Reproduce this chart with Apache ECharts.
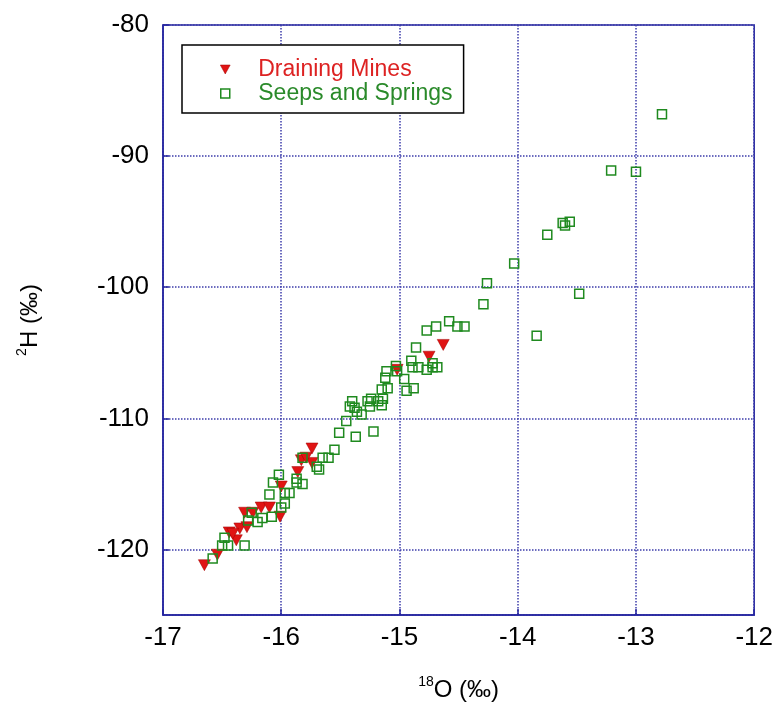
<!DOCTYPE html>
<html>
<head>
<meta charset="utf-8">
<title>2H vs 18O</title>
<script src="https://cdn.jsdelivr.net/npm/echarts@6/dist/echarts.min.js"></script>
<style>
    html, body { margin: 0; padding: 0; background: #fff; }
    #chart { width: 776px; height: 721px; }
</style>
</head>
<body>
<div id="chart"></div>
<script>
    // delta 18O (x) and delta 2H (y), per mil
    var minesO = [-16.65, -16.54, -16.44, -16.38, -16.35, -16.29, -16.41, -16.31, -16.24, -16.17,
                  -16.10, -16.01, -16.00, -15.86, -15.83, -15.74, -15.74, -15.79, -15.02, -14.75, -14.63];
    var minesH = [-121.2, -120.4, -118.7, -119.3, -118.4, -118.3, -118.8, -117.2, -117.2, -116.8,
                  -116.8, -117.5, -115.2, -114.1, -113.2, -113.4, -112.3, -113.0, -106.3, -105.3, -104.4];

    var springsO = [-16.58, -16.50, -16.45, -16.48, -16.31, -16.28, -16.20, -16.25, -16.16, -16.08,
                    -16.10, -16.07, -16.02, -16.00, -15.97, -15.97, -15.93, -15.87, -15.87, -15.82,
                    -15.82, -15.70, -15.68, -15.65, -15.60, -15.55, -15.51, -15.37, -15.22, -15.45,
                    -15.40, -15.42, -15.38, -15.36, -15.32, -15.27, -15.24, -15.25, -15.18, -15.15,
                    -15.14, -15.15, -15.10, -15.12, -15.11, -15.03, -15.02, -14.96, -14.94, -14.88,
                    -14.90, -14.89, -14.84, -14.86, -14.77, -14.72, -14.72, -14.68, -14.77, -14.69,
                    -14.58, -14.51, -14.45, -14.29, -14.26, -14.03, -13.84, -13.75, -13.62, -13.60,
                    -13.56, -13.48, -13.21, -13.00, -12.78];
    var springsH = [-120.7, -119.7, -119.7, -119.1, -119.7, -117.8, -117.9, -117.2, -117.6, -117.5,
                    -115.8, -114.9, -114.3, -116.8, -116.5, -115.7, -115.7, -114.6, -114.9, -115.0,
                    -113.0, -113.7, -113.9, -113.0, -113.0, -112.4, -111.1, -111.4, -111.0, -110.2,
                    -108.7, -109.1, -109.2, -109.5, -109.7, -108.7, -108.5, -109.1, -108.7, -109.0,
                    -108.5, -107.8, -107.7, -106.9, -106.4, -106.0, -106.4, -107.0, -107.9, -107.7,
                    -105.6, -106.1, -106.1, -104.6, -106.3, -106.1, -105.8, -106.1, -103.3, -103.0,
                    -102.6, -103.0, -103.0, -101.3, -99.7, -98.2, -103.7, -96.0, -95.1, -95.3,
                    -95.0, -100.5, -91.1, -91.2, -86.8];

    var xTicks = [-17, -12, 1];      // min, max, step
    var yRange = [-125, -80];

    function zip(xs, ys) {
        var out = [];
        for (var i = 0; i < xs.length; i++) {
            out.push([xs[i], ys[i]]);
        }
        return out;
    }

    var FONT = '"Liberation Sans", Arial, sans-serif';
    var AXIS_BLUE = '#2626a0';
    var GRID_BLUE = '#3c3caa';
    var TRI = 'path://M0,0L12,0L6,11Z';
    var SQR = 'path://M0,0L10,0L10,10L0,10Z';

    var myChart = echarts.init(document.getElementById('chart'));
    var option = {
        backgroundColor: '#ffffff',
        animation: false,
        grid: {
            left: 163,
            right: 20,
            top: 25,
            bottom: 106,
            show: true,
            borderColor: AXIS_BLUE,
            borderWidth: 1.5,
            backgroundColor: 'transparent'
        },
        legend: {
            orient: 'vertical',
            left: 182,
            top: 45,
            padding: [13, 11, 8, 38],
            borderColor: '#000',
            borderWidth: 1.5,
            borderRadius: 0,
            backgroundColor: '#fff',
            itemWidth: 56,
            itemHeight: 9,
            itemGap: 1,
            textStyle: { fontSize: 23, fontFamily: FONT },
            data: [
                { name: 'Draining Mines', icon: TRI,
                  itemStyle: { color: '#e01414', borderColor: '#a00000', borderWidth: 0.5 },
                  textStyle: { color: '#dd2222' } },
                { name: 'Seeps and Springs', icon: SQR,
                  itemStyle: { color: 'rgba(0,0,0,0)', borderColor: '#1f8a1f', borderWidth: 1.5 },
                  textStyle: { color: '#2a8a2a' } }
            ]
        },
        xAxis: {
            type: 'value',
            min: xTicks[0],
            max: xTicks[1],
            interval: xTicks[2],
            name: '{sup|18}O (‰)',
            nameLocation: 'middle',
            nameGap: 60,
            nameTextStyle: {
                fontSize: 24, color: '#000', fontFamily: FONT,
                rich: { sup: { fontSize: 14, verticalAlign: 'top', lineHeight: 30, fontFamily: FONT, color: '#000' } }
            },
            axisLine: { lineStyle: { color: AXIS_BLUE, width: 1.5 } },
            axisTick: { inside: true, length: 6, lineStyle: { color: AXIS_BLUE, width: 1.5 } },
            axisLabel: { fontSize: 26, color: '#000', fontFamily: FONT, margin: 10 },
            splitLine: { lineStyle: { color: GRID_BLUE, type: 'dotted', width: 1.5 } }
        },
        yAxis: {
            type: 'value',
            min: yRange[0],
            max: yRange[1],
            splitNumber: 5,
            name: '{sup|2}H (‰)',
            nameLocation: 'middle',
            nameGap: 118,
            nameTextStyle: {
                fontSize: 24, color: '#000', fontFamily: FONT,
                rich: { sup: { fontSize: 14, verticalAlign: 'top', lineHeight: 30, fontFamily: FONT, color: '#000' } }
            },
            axisLine: { lineStyle: { color: AXIS_BLUE, width: 1.5 } },
            axisTick: { inside: true, length: 6, lineStyle: { color: AXIS_BLUE, width: 1.5 } },
            axisLabel: { fontSize: 26, color: '#000', fontFamily: FONT, margin: 14, showMinLabel: false },
            splitLine: { lineStyle: { color: GRID_BLUE, type: 'dotted', width: 1.5 } }
        },
        series: [
            {
                name: 'Draining Mines',
                type: 'scatter',
                symbol: TRI,
                symbolSize: [12, 11],
                itemStyle: { color: '#e01414', borderColor: '#a00000', borderWidth: 0.5, opacity: 1 },
                data: zip(minesO, minesH),
                z: 3
            },
            {
                name: 'Seeps and Springs',
                type: 'scatter',
                symbol: 'rect',
                symbolSize: 9,
                itemStyle: { color: 'rgba(0,0,0,0)', borderColor: '#1f8a1f', borderWidth: 1.5, opacity: 1 },
                data: zip(springsO, springsH),
                z: 4
            }
        ]
    };
    myChart.setOption(option);
</script>
</body>
</html>
